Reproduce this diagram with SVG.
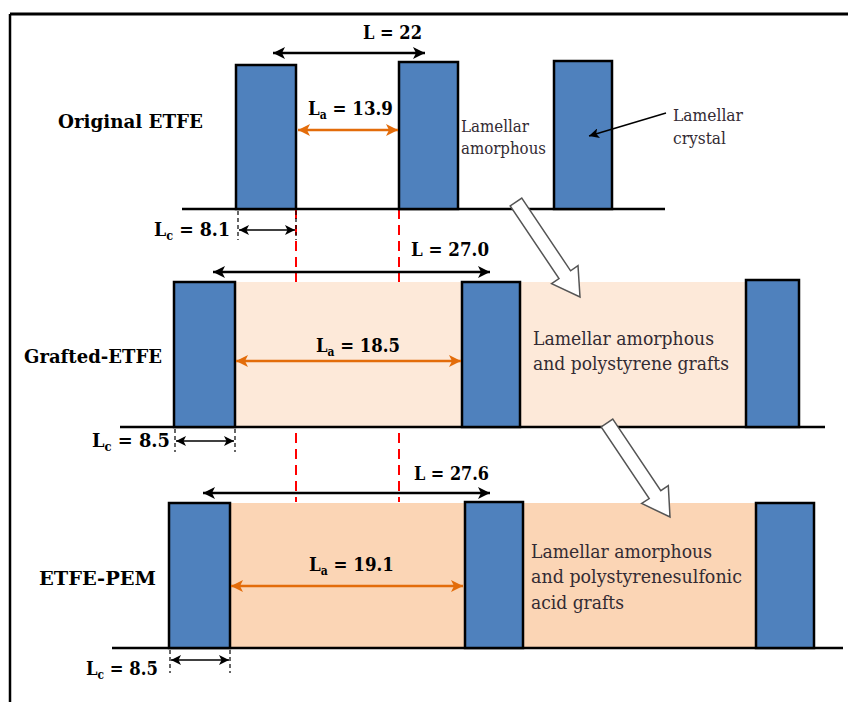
<svg xmlns="http://www.w3.org/2000/svg" width="848" height="702" viewBox="0 0 848 702">
<defs>
<style>
.bar{fill:#4F81BD;stroke:#000;stroke-width:2.5}
.base{stroke:#000;stroke-width:2.5;fill:none}
.red{stroke:#FF0000;stroke-width:2;stroke-dasharray:10,6;fill:none}
.tick{stroke:#000;stroke-width:1.2;stroke-dasharray:4,3;fill:none}
.dimL{stroke:#000;stroke-width:2.5;fill:none;marker-start:url(#ahB);marker-end:url(#ahB)}
.dimC{stroke:#000;stroke-width:1.5;fill:none;marker-start:url(#ahS);marker-end:url(#ahS)}
.dimA{stroke:#E36C0A;stroke-width:2.5;fill:none;marker-start:url(#ahO);marker-end:url(#ahO)}
.hollow{fill:#fff;stroke:#555;stroke-width:1.5;stroke-linejoin:miter}
text{font-family:'DejaVu Serif',serif}
.lbl{font-weight:bold;font-size:18.5px;fill:#000}
.desc{font-size:19px;fill:#332b33}
.small{font-size:16px;fill:#332b33}
</style>
<marker id="ahB" viewBox="0 0 12 12" refX="12" refY="6" markerWidth="13" markerHeight="12" markerUnits="userSpaceOnUse" orient="auto-start-reverse"><path d="M0,0 L12,6 L0,12 L3,6 z" fill="#000"/></marker>
<marker id="ahS" viewBox="0 0 12 12" refX="12" refY="6" markerWidth="10" markerHeight="10" markerUnits="userSpaceOnUse" orient="auto-start-reverse"><path d="M0,0 L12,6 L0,12 L3,6 z" fill="#000"/></marker>
<marker id="ahO" viewBox="0 0 12 12" refX="12" refY="6" markerWidth="13" markerHeight="12" markerUnits="userSpaceOnUse" orient="auto-start-reverse"><path d="M0,0 L12,6 L0,12 L3,6 z" fill="#E36C0A"/></marker>
</defs>
<rect x="0" y="0" width="848" height="702" fill="#fff"/>
<g id="frame"><line x1="10" y1="14" x2="848" y2="14" stroke="#000" stroke-width="3"/><line x1="10" y1="14" x2="10" y2="702" stroke="#000" stroke-width="2.5"/></g>
<g id="guides"><line class="red" x1="296" y1="209" x2="296" y2="502"/><line class="red" x1="399" y1="209" x2="399" y2="502"/></g>
<g id="original-etfe">
<line class="base" x1="182" y1="209" x2="665" y2="209"/>
<rect class="bar" x="236" y="65" width="60" height="144"/>
<rect class="bar" x="399" y="62" width="59" height="147"/>
<rect class="bar" x="554" y="61" width="58" height="148"/>
<text class="lbl" x="58" y="128" textLength="145" lengthAdjust="spacingAndGlyphs">Original ETFE</text>
<text class="small" x="461" y="132" textLength="68" lengthAdjust="spacingAndGlyphs">Lamellar</text>
<text class="small" x="461" y="154" textLength="85" lengthAdjust="spacingAndGlyphs">amorphous</text>
<text class="small" x="673" y="121" textLength="70" lengthAdjust="spacingAndGlyphs">Lamellar</text>
<text class="small" x="673" y="144" textLength="53" lengthAdjust="spacingAndGlyphs">crystal</text>
</g>
<g id="grafted-etfe">
<rect x="235" y="282" width="511" height="145" fill="#FDE9D9"/>
<line class="base" x1="120" y1="427" x2="825" y2="427"/>
<rect class="bar" x="174" y="282" width="61" height="145"/>
<rect class="bar" x="462" y="282" width="58" height="145"/>
<rect class="bar" x="746" y="280" width="53" height="147"/>
<text class="lbl" x="24" y="363" textLength="138" lengthAdjust="spacingAndGlyphs">Grafted-ETFE</text>
<text class="desc" x="533" y="345" textLength="181" lengthAdjust="spacingAndGlyphs">Lamellar amorphous</text>
<text class="desc" x="533" y="370" textLength="196" lengthAdjust="spacingAndGlyphs">and polystyrene grafts</text>
</g>
<g id="etfe-pem">
<rect x="230" y="503" width="526" height="145" fill="#FBD5B5"/>
<line class="base" x1="112" y1="648" x2="843" y2="648"/>
<rect class="bar" x="169" y="503" width="61" height="145"/>
<rect class="bar" x="465" y="502" width="58" height="146"/>
<rect class="bar" x="756" y="503" width="58" height="145"/>
<text class="lbl" x="39" y="585" textLength="117" lengthAdjust="spacingAndGlyphs">ETFE-PEM</text>
<text class="desc" x="531" y="558" textLength="181" lengthAdjust="spacingAndGlyphs">Lamellar amorphous</text>
<text class="desc" x="531" y="583" textLength="211" lengthAdjust="spacingAndGlyphs">and polystyrenesulfonic</text>
<text class="desc" x="531" y="609" textLength="93" lengthAdjust="spacingAndGlyphs">acid grafts</text>
</g>
<g id="connectors">
<line class="dimL" x1="273" y1="53" x2="425" y2="53"/>
<line class="dimA" x1="298" y1="130" x2="398" y2="130"/>
<line class="tick" x1="238" y1="211" x2="238" y2="240"/>
<line class="tick" x1="296" y1="211" x2="296" y2="240"/>
<line class="dimC" x1="239" y1="230" x2="295" y2="230"/>
<line class="dimL" x1="213" y1="272" x2="490" y2="272"/>
<line class="dimA" x1="236" y1="361" x2="461" y2="361"/>
<line class="tick" x1="175" y1="429" x2="175" y2="452"/>
<line class="tick" x1="235" y1="429" x2="235" y2="452"/>
<line class="dimC" x1="176" y1="441" x2="234" y2="441"/>
<line class="dimL" x1="203" y1="493" x2="490" y2="493"/>
<line class="dimA" x1="231" y1="586" x2="463" y2="586"/>
<line class="tick" x1="170" y1="650" x2="170" y2="673"/>
<line class="tick" x1="230" y1="650" x2="230" y2="673"/>
<line class="dimC" x1="171" y1="660" x2="229" y2="660"/>
<line x1="666" y1="113" x2="589" y2="136" stroke="#000" stroke-width="1.5" marker-end="url(#ahS)"/>
<polygon class="hollow" points="521.8,198.1 570.6,270.8 578,265.7 580,297 551.6,283.7 559,278.6 510.2,205.9"/>
<polygon class="hollow" points="612.8,419.1 660.8,490.7 668.3,485.7 670,517 641.7,503.5 649.2,498.5 601.2,426.9"/>
</g>
<g id="labels">
<text class="lbl" x="363" y="39" textLength="59" lengthAdjust="spacingAndGlyphs">L = 22</text>
<text class="lbl" x="308" y="115" textLength="85" lengthAdjust="spacingAndGlyphs">L<tspan font-size="12" dy="4">a</tspan><tspan dy="-4"> = 13.9</tspan></text>
<text class="lbl" x="154" y="236" textLength="76" lengthAdjust="spacingAndGlyphs">L<tspan font-size="12" dy="4">c</tspan><tspan dy="-4"> = 8.1</tspan></text>
<text class="lbl" x="411" y="256" textLength="78" lengthAdjust="spacingAndGlyphs">L = 27.0</text>
<text class="lbl" x="316" y="352" textLength="84" lengthAdjust="spacingAndGlyphs">L<tspan font-size="12" dy="4">a</tspan><tspan dy="-4"> = 18.5</tspan></text>
<text class="lbl" x="92" y="447" textLength="78" lengthAdjust="spacingAndGlyphs">L<tspan font-size="12" dy="4">c</tspan><tspan dy="-4"> = 8.5</tspan></text>
<text class="lbl" x="414" y="480" textLength="75" lengthAdjust="spacingAndGlyphs">L = 27.6</text>
<text class="lbl" x="309" y="571" textLength="85" lengthAdjust="spacingAndGlyphs">L<tspan font-size="12" dy="4">a</tspan><tspan dy="-4"> = 19.1</tspan></text>
<text class="lbl" x="86" y="675" textLength="72" lengthAdjust="spacingAndGlyphs">L<tspan font-size="12" dy="4">c</tspan><tspan dy="-4"> = 8.5</tspan></text>
</g>
</svg>
